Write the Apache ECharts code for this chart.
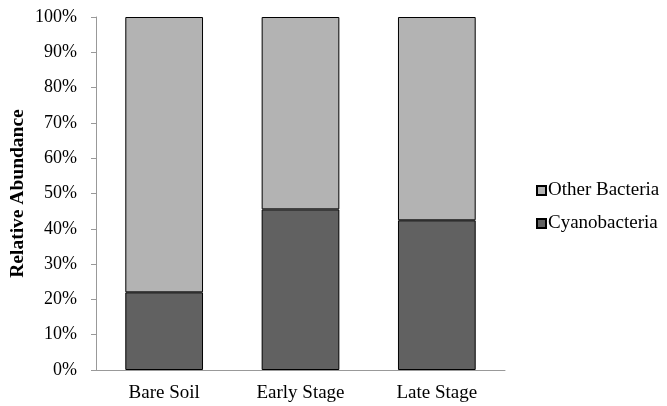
<!DOCTYPE html>
<html>
<head>
<meta charset="utf-8">
<script src="https://cdn.jsdelivr.net/npm/echarts@6/dist/echarts.min.js"></script>
<style>html,body{margin:0;padding:0;background:#fff;}#chart{width:667px;height:406px;}</style>
</head>
<body>
<div id="chart"></div>
<script>
var categories = ['Bare Soil', 'Early Stage', 'Late Stage'];
var cyanobacteria = [22.0, 45.5, 42.4];
var otherBacteria = [78.0, 54.5, 57.6];
var yTicks = [0, 10, 20, 30, 40, 50, 60, 70, 80, 90, 100];

var font = 'Liberation Serif, Times New Roman, serif';
var chart = echarts.init(document.getElementById('chart'));
chart.setOption({
  animation: false,
  backgroundColor: '#fff',
  grid: { left: 96, right: 162, top: 17, bottom: 36, containLabel: false, outerBoundsMode: 'none' },
  legend: {
    orient: 'vertical',
    left: 531,
    top: 176,
    itemWidth: 9,
    itemHeight: 9,
    itemGap: 14,
    icon: 'rect',
    data: ['Other Bacteria', 'Cyanobacteria'],
    textStyle: { fontFamily: font, fontSize: 19, color: '#000', lineHeight: 19, padding: [0, 0, 0, -3] }
  },
  xAxis: {
    type: 'category',
    data: categories,
    axisLine: { show: true, lineStyle: { color: '#999', width: 1 } },
    axisTick: { show: false },
    axisLabel: { fontFamily: font, fontSize: 19, color: '#000', margin: 14 }
  },
  yAxis: {
    type: 'value',
    min: 0,
    max: 100,
    interval: 10,
    axisLine: { show: true, lineStyle: { color: '#999', width: 1 } },
    axisTick: { show: true, length: 5, lineStyle: { color: '#999' } },
    splitLine: { show: false },
    axisLabel: {
      fontFamily: font, fontSize: 18, color: '#000', margin: 19,
      formatter: function (v) { return yTicks.indexOf(v) >= 0 ? v + '%' : ''; }
    },
    name: 'Relative Abundance',
    nameLocation: 'middle',
    nameGap: 68,
    nameMoveOverlap: false,
    nameTextStyle: { fontFamily: font, fontSize: 19.5, fontWeight: 'bold', color: '#000' }
  },
  series: [
    {
      name: 'Cyanobacteria',
      type: 'bar',
      stack: 'total',
      barWidth: '57%',
      data: cyanobacteria,
      itemStyle: { color: '#616161', borderColor: '#000', borderWidth: 1 }
    },
    {
      name: 'Other Bacteria',
      type: 'bar',
      stack: 'total',
      barWidth: '57%',
      data: otherBacteria,
      itemStyle: { color: '#b3b3b3', borderColor: '#000', borderWidth: 1 }
    }
  ]
});
</script>
</body>
</html>
